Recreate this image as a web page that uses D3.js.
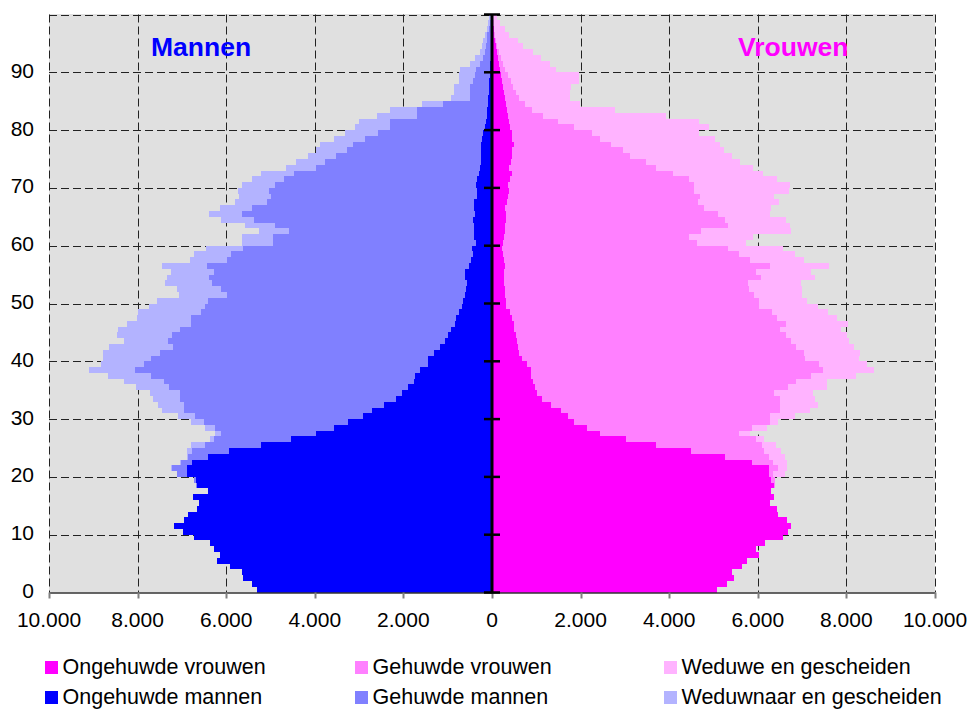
<!DOCTYPE html>
<html><head><meta charset="utf-8">
<script src="https://cdn.jsdelivr.net/npm/d3@7"></script>
<style>
body{margin:0;background:#fff;}
text{font-family:"Liberation Sans",Arial,Helvetica,sans-serif;}
</style>
</head><body>
<svg id="chart" width="972" height="709"></svg>
<script>
// ---------- DATA ----------
const ages = d3.range(0, 100); // age categories 0..99
const menUnmarried = [5300,5412,5615,5653,5915,6201,6140,6276,6366,6727,
 6968,7171,6945,6862,6659,6614,6742,6411,6661,6672,
 6884,6878,6765,6404,5931,5209,4533,3969,3563,3247,
 2909,2706,2435,2165,2030,1894,1759,1736,1624,1443,
 1443,1308,1173,1060,992,925,834,812,744,677,
 654,609,586,564,609,609,519,466,436,451,
 361,406,406,406,428,383,406,406,338,338,
 361,338,293,271,248,248,248,248,226,195,
 158,135,120,105,98,83,75,68,60,53,
 45,38,30,23,23,15,15,8,8,5];
const menMarried = [0,0,0,0,0,0,0,0,0,0,
 0,0,0,0,0,0,0,0,10,50,
 227,338,248,451,841,1270,1736,2142,2683,3247,
 3788,4239,4510,4871,5006,5390,5637,5954,6426,6404,
 6247,6179,6020,6246,6224,6111,5954,5976,5818,5795,
 5750,5367,5525,5750,5773,5660,5908,5510,5450,5164,
 4585,4540,4172,4487,4939,5255,5006,4668,4646,4691,
 4532,4352,4172,3698,3518,3270,3022,2886,2638,2376,
 2142,2165,1571,1586,1007,413,421,428,361,330,
 316,233,165,135,112,105,90,67,45,25];
const menWidowedDivorced = [0,0,0,0,0,0,0,0,0,0,
 0,0,0,0,0,0,0,0,0,0,
 10,22,23,23,106,309,90,135,226,294,
 384,497,587,608,676,744,902,969,1038,970,
 1089,1285,1444,992,1240,1398,1443,1217,1421,1263,
 1157,1082,992,1060,947,969,1015,834,834,834,
 692,692,676,677,744,744,722,721,721,699,
 745,722,744,676,654,631,714,745,699,744,
 800,699,902,609,473,429,361,361,323,361,
 361,225,188,113,98,75,53,45,30,30];
const womenUnmarried = [5089,5299,5457,5412,5653,5750,6021,5961,6156,6562,
 6675,6742,6652,6449,6427,6269,6359,6291,6362,6292,
 6246,6246,5863,5254,4487,3698,3022,2435,2142,1849,
 1714,1556,1330,1128,1015,970,925,879,879,789,
 677,609,586,564,541,496,496,451,406,316,
 316,293,293,271,271,271,293,271,248,226,
 248,271,293,293,316,316,293,338,361,383,
 361,406,451,383,428,451,451,496,451,451,
 406,383,361,338,316,293,271,248,226,203,
 180,158,135,113,90,70,55,40,30,20];
const womenMarried = [0,0,0,0,0,0,0,0,0,0,
 0,0,0,0,0,0,0,0,20,90,
 106,204,487,996,1663,2392,2928,3135,3721,4420,
 4555,4938,5164,5366,5344,5705,5930,6314,6585,6585,
 6381,6427,6269,6178,6089,5998,6134,5976,5908,5705,
 5705,5615,5502,5502,5795,5682,5976,5547,5322,5096,
 4375,4171,4420,5029,4938,4780,4488,4307,4329,4172,
 4194,4036,3631,3315,3045,2661,2503,2187,1984,1804,
 1443,1117,789,562,434,307,269,232,194,157,
 120,92,65,47,30,30,20,15,10,10];
const womenWidowedDivorced = [0,0,0,0,0,0,0,0,0,0,
 0,0,0,0,0,0,0,0,0,0,
 255,202,302,357,370,310,200,248,338,180,
 564,677,857,790,880,879,699,1015,1150,1082,
 1218,1262,1308,1308,1375,1376,1398,1353,1263,1330,
 1082,1082,1195,1195,1218,1240,1330,1218,1263,1240,
 1105,1444,2029,1398,1376,1173,1510,1827,1669,2142,
 2165,1985,2029,2188,2119,2300,2278,2458,2594,2413,
 3051,3168,2774,1874,1234,1150,1210,1300,1542,1602,
 1143,1058,905,764,580,486,308,238,140,83];
const ageTicks = [0,10,20,30,40,50,60,70,80,90];
const valueTicks = [-10000,-8000,-6000,-4000,-2000,0,2000,4000,6000,8000,10000];
const legendLabels = [
  ["Ongehuwde vrouwen","Gehuwde vrouwen","Weduwe en gescheiden"],
  ["Ongehuwde mannen","Gehuwde mannen","Weduwnaar en gescheiden"]
];
const menColors = ["#0000FF","#8080FF","#B3B3FF"];
const womenColors = ["#FF00FF","#FF80FF","#FFB3FF"];

// ---------- LAYOUT ----------
const svg = d3.select("#chart");
const L = 49, R = 935, T = 14.5, B = 592.5;
const x = d3.scaleLinear().domain([-10000, 10000]).range([L, R]);
const y = d3.scaleLinear().domain([0, 100]).range([B, T]);
const nl = d3.formatLocale({decimal:",", thousands:".", grouping:[3], currency:["€",""]});
const fmt = nl.format(",");

// background
svg.append("rect").attr("x", L).attr("y", T-0.5).attr("width", R-L).attr("height", B-T+0.5)
  .attr("fill", "#E0E0E0");

// grid
const grid = svg.append("g").attr("stroke", "#222").attr("stroke-width", 1)
  .attr("stroke-dasharray", "8,4").attr("fill", "none");
[10,20,30,40,50,60,70,80,90,100].forEach(a => {
  const yy = Math.round(y(a)) + 0.5;
  grid.append("line").attr("x1", L).attr("x2", R).attr("y1", yy).attr("y2", yy);
});
valueTicks.filter(v => v !== 0).forEach(v => {
  const xx = Math.round(x(v)) + 0.5;
  grid.append("line").attr("x1", xx).attr("x2", xx).attr("y1", T).attr("y2", B);
});

// data table for stacking
const table = ages.map((a, i) => ({
  age: a,
  mU: menUnmarried[i], mM: menMarried[i], mW: menWidowedDivorced[i],
  wU: womenUnmarried[i], wM: womenMarried[i], wW: womenWidowedDivorced[i]
}));
const menStack = d3.stack().keys(["mU","mM","mW"])(table);
const womenStack = d3.stack().keys(["wU","wM","wW"])(table);

const bars = svg.append("g").attr("shape-rendering", "crispEdges");
menStack.forEach((s, k) => {
  bars.append("g").attr("fill", menColors[k]).selectAll("rect").data(s).join("rect")
    .attr("x", d => x(-d[1]))
    .attr("width", d => x(-d[0]) - x(-d[1]))
    .attr("y", d => y(d.data.age + 1))
    .attr("height", d => y(d.data.age) - y(d.data.age + 1));
});
womenStack.forEach((s, k) => {
  bars.append("g").attr("fill", womenColors[k]).selectAll("rect").data(s).join("rect")
    .attr("x", d => x(d[0]))
    .attr("width", d => x(d[1]) - x(d[0]))
    .attr("y", d => y(d.data.age + 1))
    .attr("height", d => y(d.data.age) - y(d.data.age + 1));
});

// bottom axis
const xAxisG = svg.append("g");
xAxisG.append("line").attr("x1", L).attr("x2", R).attr("y1", B+0.5).attr("y2", B+0.5)
  .attr("stroke", "#333").attr("stroke-width", 1.5);
valueTicks.forEach(v => {
  const xx = Math.round(x(v)) + 0.5;
  xAxisG.append("line").attr("x1", xx).attr("x2", xx).attr("y1", B).attr("y2", B+6)
    .attr("stroke", "#808080").attr("stroke-width", 2);
  xAxisG.append("text").attr("x", x(v)).attr("y", 627).attr("text-anchor", "middle")
    .attr("font-size", 21).attr("fill", "#000").text(fmt(Math.abs(v)));
});

// central vertical axis
const yAxisG = svg.append("g");
yAxisG.append("line").attr("x1", x(0)).attr("x2", x(0)).attr("y1", T-0.5).attr("y2", B+1)
  .attr("stroke", "#000").attr("stroke-width", 3);
[0,10,20,30,40,50,60,70,80,90,100].forEach(a => {
  yAxisG.append("line").attr("x1", x(0)-8).attr("x2", x(0)+8)
    .attr("y1", y(a)).attr("y2", y(a)).attr("stroke", "#000").attr("stroke-width", 2.5);
});
ageTicks.forEach(a => {
  svg.append("text").attr("x", 34).attr("y", y(a) + 5.5).attr("text-anchor", "end")
    .attr("font-size", 21).attr("fill", "#000").text(a);
});

// titles
svg.append("text").attr("x", 151).attr("y", 56).attr("font-size", 26.5).attr("font-weight", "bold")
  .attr("fill", "#0000FF").text("Mannen");
svg.append("text").attr("x", 738).attr("y", 56).attr("font-size", 26.5).attr("font-weight", "bold")
  .attr("fill", "#FF00FF").text("Vrouwen");

// legend
const colX = [45, 355, 664];
const rowY = [661, 691];
const legColors = [womenColors, menColors];
legendLabels.forEach((row, r) => {
  row.forEach((lab, c) => {
    svg.append("rect").attr("x", colX[c]).attr("y", rowY[r]).attr("width", 13).attr("height", 13)
      .attr("fill", legColors[r][c]);
    svg.append("text").attr("x", colX[c] + 17.5).attr("y", rowY[r] + 13).attr("font-size", 21.5)
      .attr("fill", "#000").text(lab);
  });
});
</script>
</body></html>
